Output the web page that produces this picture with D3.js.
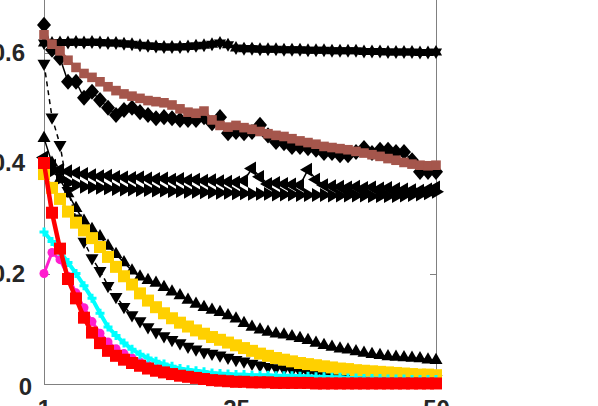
<!DOCTYPE html>
<meta charset="utf-8">
<style>

body {
  margin: 0;
  background: #fff;
}

svg {
  display: block;
  overflow: hidden;
}

.axis path,
.axis line {
  stroke: #808080;
  stroke-width: 1px;
  shape-rendering: crispEdges;
}

.axis text {
  font-family: "Liberation Sans", Arial, sans-serif;
  font-weight: bold;
  font-size: 24px;
  fill: #262626;
}

</style>
<body>
</body>
<script src="https://cdn.jsdelivr.net/npm/d3@7"></script>
<script>

var iters = d3.range(1, 51);

var hexVals = [0.617,0.617,0.618,0.618,0.619,0.618,0.619,0.618,0.617,0.617,
  0.616,0.615,0.613,0.612,0.611,0.61,0.61,0.61,0.611,0.612,
  0.613,0.615,0.617,0.614,0.608,0.607,0.607,0.606,0.606,0.606,
  0.605,0.605,0.605,0.604,0.604,0.604,0.603,0.603,0.603,0.603,
  0.602,0.602,0.602,0.601,0.601,0.601,0.601,0.6,0.6,0.601];

var diamondVals = [0.65,0.605,0.59,0.547,0.547,0.518,0.529,0.514,0.50,0.487,
  0.496,0.50,0.492,0.487,0.481,0.483,0.481,0.478,0.478,0.478,
  0.483,0.472,0.483,0.454,0.456,0.454,0.456,0.469,0.45,0.438,
  0.436,0.429,0.429,0.427,0.424,0.418,0.418,0.414,0.414,0.42,
  0.427,0.418,0.424,0.424,0.42,0.42,0.405,0.384,0.384,0.384];

var brownVals = [0.632,0.615,0.603,0.586,0.573,0.562,0.555,0.547,0.538,0.531,
  0.525,0.521,0.517,0.513,0.511,0.509,0.505,0.498,0.492,0.49,
  0.494,0.478,0.468,0.465,0.468,0.464,0.461,0.457,0.453,0.45,
  0.448,0.444,0.44,0.437,0.434,0.43,0.428,0.426,0.424,0.421,
  0.418,0.415,0.412,0.408,0.405,0.401,0.398,0.396,0.395,0.396];

var leftVals = [0.41,0.395,0.388,0.385,0.382,0.38,0.378,0.376,0.377,0.375,
  0.374,0.373,0.374,0.372,0.371,0.372,0.37,0.371,0.369,0.37,
  0.368,0.369,0.367,0.366,0.365,0.368,0.39,0.375,0.362,0.364,
  0.362,0.361,0.36,0.388,0.37,0.36,0.358,0.357,0.356,0.357,
  0.355,0.356,0.354,0.355,0.353,0.352,0.351,0.35,0.352,0.356];

var rightVals = [0.40,0.385,0.372,0.364,0.36,0.357,0.356,0.355,0.354,0.353,
  0.352,0.352,0.351,0.351,0.35,0.35,0.349,0.349,0.348,0.348,
  0.347,0.347,0.346,0.346,0.345,0.345,0.344,0.344,0.344,0.343,
  0.343,0.343,0.342,0.342,0.342,0.342,0.341,0.341,0.341,0.341,
  0.341,0.34,0.34,0.34,0.34,0.341,0.342,0.343,0.345,0.348];

var upVals = [0.445,0.40,0.37,0.345,0.318,0.295,0.28,0.267,0.25,0.235,
  0.22,0.205,0.194,0.188,0.183,0.175,0.167,0.16,0.152,0.145,
  0.139,0.134,0.13,0.124,0.118,0.11,0.103,0.098,0.094,0.091,
  0.089,0.086,0.083,0.079,0.074,0.07,0.067,0.064,0.062,0.059,
  0.056,0.054,0.052,0.05,0.049,0.048,0.047,0.046,0.044,0.043];

var downVals = [0.58,0.483,0.433,0.35,0.30,0.258,0.228,0.205,0.178,0.158,
  0.14,0.125,0.114,0.103,0.094,0.087,0.08,0.074,0.068,0.063,
  0.058,0.055,0.052,0.048,0.044,0.041,0.037,0.034,0.031,0.029,
  0.027,0.025,0.023,0.021,0.02,0.018,0.017,0.016,0.015,0.014,
  0.013,0.013,0.012,0.012,0.011,0.011,0.01,0.01,0.01,0.009];

var yellowVals = [0.38,0.355,0.335,0.312,0.292,0.278,0.264,0.248,0.23,0.212,
  0.195,0.18,0.164,0.151,0.139,0.128,0.119,0.111,0.104,0.097,
  0.091,0.085,0.08,0.075,0.07,0.065,0.06,0.055,0.051,0.047,
  0.044,0.041,0.038,0.036,0.034,0.032,0.03,0.028,0.027,0.025,
  0.024,0.023,0.022,0.021,0.02,0.019,0.018,0.017,0.017,0.016];

var magentaVals = [0.2,0.238,0.225,0.195,0.165,0.138,0.113,0.092,0.076,0.064,
  0.055,0.047,0.04,0.034,0.029,0.025,0.021,0.018,0.016,0.014,
  0.012,0.011,0.01,0.009,0.008,0.008,0.007,0.007,0.006,0.006,
  0.006,0.005,0.005,0.005,0.005,0.004,0.004,0.004,0.004,0.004,
  0.003,0.003,0.003,0.003,0.003,0.003,0.003,0.003,0.003,0.003];

var cyanVals = [0.275,0.258,0.24,0.22,0.2,0.178,0.155,0.128,0.103,0.088,
  0.074,0.063,0.054,0.047,0.041,0.036,0.032,0.028,0.026,0.024,
  0.022,0.02,0.019,0.018,0.017,0.017,0.016,0.016,0.016,0.015,
  0.015,0.015,0.014,0.014,0.013,0.013,0.012,0.012,0.011,0.011,
  0.01,0.01,0.01,0.009,0.009,0.009,0.008,0.008,0.008,0.008];

var redVals = [0.40,0.31,0.245,0.19,0.155,0.12,0.093,0.074,0.06,0.051,
  0.044,0.038,0.033,0.028,0.024,0.021,0.018,0.015,0.013,0.011,
  0.009,0.007,0.006,0.005,0.004,0.004,0.003,0.003,0.003,0.002,
  0.002,0.002,0.002,0.002,0.001,0.001,0.001,0.001,0.001,0.001,
  0.001,0.001,0.001,0.001,0.001,0.001,0.001,0.001,0.001,0.001];

var xTicks = [1, 25, 50],
    yTicks = [0, 0.2, 0.4, 0.6];

var w = 598,
    h = 406,
    left = 44,
    right = 436,
    bottom = 384,
    yMax = 0.7;

var x = d3.scaleLinear().domain([1, 50]).range([left, right]);
var y = d3.scaleLinear().domain([0, yMax]).range([bottom, bottom - yMax * 552.5]);

var svg = d3.select("body").append("svg")
    .attr("width", w)
    .attr("height", h);

// marker shapes, s = half size
function triangle(angle, s) {
  var pts = [0, 120, 240].map(function(a) {
    var t = (a + angle) * Math.PI / 180;
    return [s * Math.sin(t), -s * Math.cos(t)];
  });
  return "M" + pts.join("L") + "Z";
}

function hexagram(s) {
  var pts = d3.range(12).map(function(i) {
    var r = i % 2 ? s * 0.58 : s,
        t = i * Math.PI / 6;
    return [r * Math.sin(t), -r * Math.cos(t)];
  });
  return "M" + pts.join("L") + "Z";
}

var shapes = {
  square: function(s) { return "M" + -s + "," + -s + "H" + s + "V" + s + "H" + -s + "Z"; },
  diamond: function(s) { return "M0," + (-s * 1.15) + "L" + s + ",0L0," + (s * 1.15) + "L" + -s + ",0Z"; },
  up: function(s) { return triangle(0, s); },
  down: function(s) { return triangle(180, s); },
  left: function(s) { return triangle(270, s); },
  right: function(s) { return triangle(90, s); },
  hex: hexagram,
  circle: function(s) { return d3.symbol(d3.symbolCircle, Math.PI * s * s)(); },
  cross: function(s) { return d3.symbol(d3.symbolCross, s * s * 20 / 9)(); }
};

var series = [
  {vals: hexVals, color: "#000", shape: "hex", size: 7, width: 3},
  {vals: diamondVals, color: "#000", shape: "diamond", size: 7, width: 1.5},
  {vals: brownVals, color: "#a5564c", shape: "square", size: 4.8, width: 3},
  {vals: leftVals, color: "#000", shape: "left", size: 8, width: 1.5},
  {vals: rightVals, color: "#000", shape: "right", size: 8, width: 1.5},
  {vals: upVals, color: "#000", shape: "up", size: 7.5, width: 1.5},
  {vals: downVals, color: "#000", shape: "down", size: 7.5, width: 1.5, dash: "5,4"},
  {vals: yellowVals, color: "#ffd000", shape: "square", size: 6, width: 3},
  {vals: magentaVals, color: "#ff1dce", shape: "circle", size: 4.5, width: 3},
  {vals: cyanVals, color: "#00ffff", shape: "cross", size: 4.5, width: 4},
  {vals: redVals, color: "#ff0000", shape: "square", size: 6, width: 4.5}
];

var line = d3.line()
    .x(function(d, i) { return x(iters[i]); })
    .y(function(d) { return y(d); });

// axes box
var xAxis = d3.axisBottom(x).tickValues(xTicks).tickSizeInner(-6).tickSizeOuter(0).tickPadding(16);
var yAxis = d3.axisLeft(y).tickValues(yTicks).tickSizeInner(-6).tickSizeOuter(0).tickPadding(19)
    .tickFormat(d3.format(".1~f"));
var yAxisR = d3.axisRight(y).tickValues(yTicks).tickSizeInner(-6).tickSizeOuter(0).tickFormat("");

svg.append("g").attr("class", "axis")
    .attr("transform", "translate(0," + bottom + ")")
    .call(xAxis);

var gy = svg.append("g").attr("class", "axis")
    .attr("transform", "translate(" + left + ",0)")
    .call(yAxis);

gy.selectAll(".tick text")
    .filter(function(d) { return d === 0; })
    .attr("dx", 7)
    .attr("dy", "0.45em");

svg.append("g").attr("class", "axis")
    .attr("transform", "translate(" + right + ",0)")
    .call(yAxisR);

var plot = svg.append("g");

series.forEach(function(s) {
  var g = plot.append("g");

  g.append("path")
      .datum(s.vals)
      .attr("d", line)
      .attr("fill", "none")
      .attr("stroke", s.color)
      .attr("stroke-width", s.width)
      .attr("stroke-dasharray", s.dash || null)
      .attr("stroke-linejoin", "round");

  g.selectAll(".m")
      .data(s.vals)
    .enter().append("path")
      .attr("class", "m")
      .attr("d", shapes[s.shape](s.size))
      .attr("transform", function(d, i) { return "translate(" + x(iters[i]) + "," + y(d) + ")"; })
      .attr("fill", s.color);
});

</script>
